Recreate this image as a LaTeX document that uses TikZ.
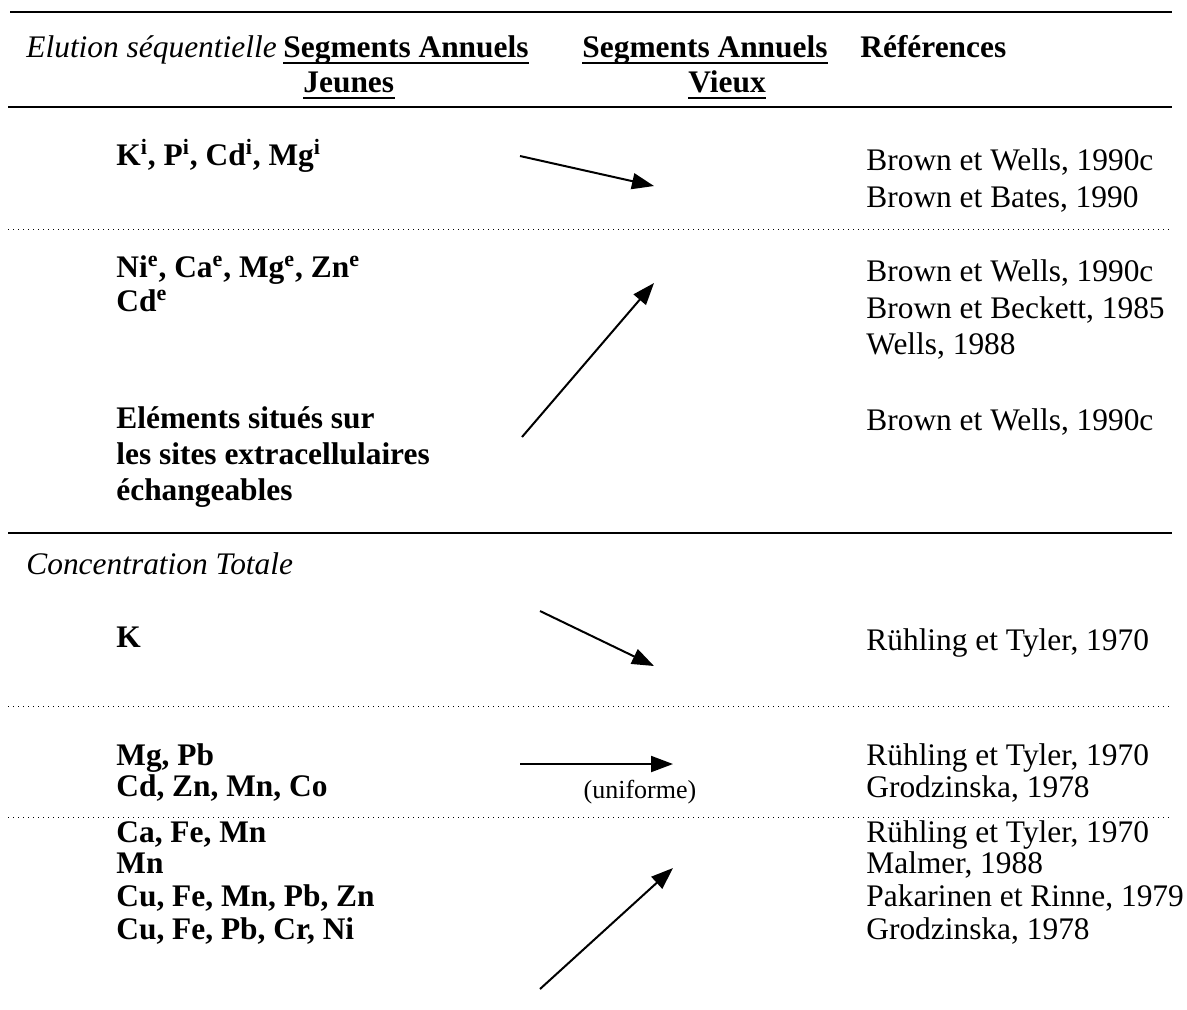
\documentclass[tikz,border=0pt]{standalone}
\usepackage{fontspec}
\setmainfont{Liberation Serif}
\usetikzlibrary{arrows.meta}
\newcommand{\tabsize}{\fontsize{15.7}{18}\selectfont}

\begin{document}
\begin{tikzpicture}[x=0.5pt,y=-0.5pt,
    elemnode/.style={anchor=base west, inner sep=0pt, font=\tabsize\bfseries},
    refnode/.style={anchor=base west, inner sep=0pt, font=\tabsize},
    titlenode/.style={anchor=base west, inner sep=0pt, font=\tabsize\itshape},
    trend/.style={line width=1pt, -{Triangle[length=11pt,width=8pt]}},
    rule/.style={line width=1pt},
    ulrule/.style={line width=1.2pt},
    dotrule/.style={line width=0.5pt, dotted}]
    \useasboundingbox (0,0) rectangle (1187,1009);
    %Rules
    \draw[rule] (10,12) -- (1172,12);
    \draw[rule] (8,107) -- (1172,107);
    \draw[dotrule] (8,229) -- (1172,229);
    \draw[rule] (8,533) -- (1172,533);
    \draw[dotrule] (8,706) -- (1172,706);
    \draw[dotrule] (8,817) -- (1172,817);
    %Header
    \node[titlenode] (elution) at (26,57) {Elution séquentielle};
    \node[elemnode]  (segJ)    at (283,57) {Segments Annuels};
    \node[elemnode]  (jeunes)  at (303,92) {Jeunes};
    \node[elemnode]  (segV)    at (582,57) {Segments Annuels};
    \node[elemnode]  (vieux)   at (688,92) {Vieux};
    \node[elemnode]  (refHead) at (860,57) {Références};
    \foreach \hd in {segJ,jeunes,segV,vieux}
        \draw[ulrule] ([yshift=-3pt]\hd.base west) -- ([yshift=-3pt]\hd.base east);
    %Elution sequentielle
    \node[elemnode] (elemI)  at (116,165) {K\textsuperscript{i}, P\textsuperscript{i}, Cd\textsuperscript{i}, Mg\textsuperscript{i}};
    \node[refnode]  (refI1)  at (866,170) {Brown et Wells, 1990c};
    \node[refnode]  (refI2)  at (866,207) {Brown et Bates, 1990};
    \node[elemnode] (elemE1) at (116,277) {Ni\textsuperscript{e}, Ca\textsuperscript{e}, Mg\textsuperscript{e}, Zn\textsuperscript{e}};
    \node[elemnode] (elemE2) at (116,311) {Cd\textsuperscript{e}};
    \node[refnode]  (refE1)  at (866,281) {Brown et Wells, 1990c};
    \node[refnode]  (refE2)  at (866,318) {Brown et Beckett, 1985};
    \node[refnode]  (refE3)  at (866,354) {Wells, 1988};
    \node[elemnode] (sites1) at (116,428) {Eléments situés sur};
    \node[elemnode] (sites2) at (116,464) {les sites extracellulaires};
    \node[elemnode] (sites3) at (116,500) {échangeables};
    \node[refnode]  (refS1)  at (866,430) {Brown et Wells, 1990c};
    %Concentration totale
    \node[titlenode] (totale) at (26,574) {Concentration Totale};
    \node[elemnode] (elemK)  at (116,647) {K};
    \node[refnode]  (refK)   at (866,650) {Rühling et Tyler, 1970};
    \node[elemnode] (elemU1) at (116,765) {Mg, Pb};
    \node[elemnode] (elemU2) at (116,796) {Cd, Zn, Mn, Co};
    \node[refnode]  (refU1)  at (866,765) {Rühling et Tyler, 1970};
    \node[refnode]  (refU2)  at (866,797) {Grodzinska, 1978};
    \node[elemnode] (elemC1) at (116,842) {Ca, Fe, Mn};
    \node[elemnode] (elemC2) at (116,873) {Mn};
    \node[elemnode] (elemC3) at (116,906) {Cu, Fe, Mn, Pb, Zn};
    \node[elemnode] (elemC4) at (116,939) {Cu, Fe, Pb, Cr, Ni};
    \node[refnode]  (refC1)  at (866,842) {Rühling et Tyler, 1970};
    \node[refnode]  (refC2)  at (866,873) {Malmer, 1988};
    \node[refnode]  (refC3)  at (866,906) {Pakarinen et Rinne, 1979};
    \node[refnode]  (refC4)  at (866,939) {Grodzinska, 1978};
    %Arrows
    \coordinate (dI0) at (520,156);  \coordinate (dI1) at (654,186);
    \coordinate (uE0) at (522,437);  \coordinate (uE1) at (654,283);
    \coordinate (dK0) at (540,611);  \coordinate (dK1) at (654,666);
    \coordinate (hU0) at (520,764);  \coordinate (hU1) at (673,764);
    \coordinate (uC0) at (540,989);  \coordinate (uC1) at (673,868);
    \draw[trend] (dI0) -- (dI1);
    \draw[trend] (uE0) -- (uE1);
    \draw[trend] (dK0) -- (dK1);
    \draw[trend] (hU0) -- (hU1);
    \draw[trend] (uC0) -- (uC1);
    \node[inner sep=0pt, font=\fontsize{13}{15}\selectfont] (uniforme) at (640,792) {(uniforme)};
\end{tikzpicture}
\end{document}
